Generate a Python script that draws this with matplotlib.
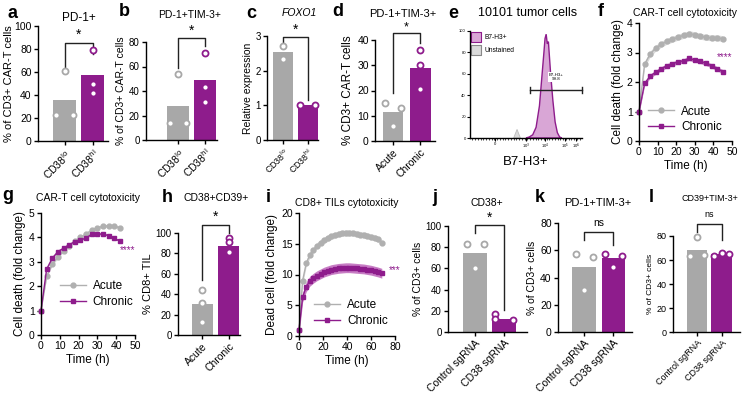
import numpy as np
import matplotlib.pyplot as plt

plt.rcParams['font.family'] = ['Liberation Sans', 'DejaVu Sans']

GRAY = '#A8A8A8'
PURPLE = '#8E1C8C'
PINK = '#D9A6D6'

# ---- data ----
a_bars = [36, 57]
a_pts = [[61, 23, 23], [79, 50, 42]]
b_bars = [28, 49]
b_pts = [[54, 14, 14], [71, 43, 31]]
c_bars = [2.55, 1.0]
c_pts = [[2.72, 2.35], [1.0, 1.0]]
d_bars = [11.5, 29]
d_pts = [[15, 13, 6], [36, 30, 20.5]]
h_bars = [30, 87]
h_pts = [[44, 31, 13], [95, 91, 81]]
j_bars = [75, 12]
j_pts = [[83, 83, 60], [17, 12, 11]]
k_bars = [48, 54]
k_pts = [[57, 55, 31], [57, 56, 48]]
l_bars = [68, 65]
l_pts = [[79, 63, 64], [63, 66, 65]]

cd38_labels = [r'CD38$^{\rm lo}$', r'CD38$^{\rm hi}$']
ac_labels = ['Acute', 'Chronic']
sg_labels = ['Control sgRNA', 'CD38 sgRNA']

# histogram (e), x in display units of the biexponential axis
e_pos = [0.50, 0.53, 0.56, 0.59, 0.62, 0.64, 0.66, 0.67, 0.68, 0.69, 0.70,
         0.71, 0.72, 0.74, 0.76, 0.78, 0.80, 0.82]
e_pct = [0, 1, 3, 10, 30, 55, 80, 93, 97, 88, 90, 75, 60, 35, 15, 5, 1, 0]
e_unst_pos = [0.39, 0.42, 0.45]
e_unst_pct = [0, 8, 0]
e_tick_pos = [0.22, 0.50, 0.67, 0.85, 0.95]
e_tick_lab = ['0', r'10$^3$', r'10$^4$', r'10$^5$', r'10$^6$']

f_t = [0, 3, 6, 9, 12, 15, 18, 21, 24, 27, 30, 33, 36, 39, 42, 45]
f_acute = [1.0, 2.6, 2.95, 3.15, 3.28, 3.38, 3.45, 3.52, 3.58, 3.64, 3.6, 3.55,
           3.51, 3.5, 3.5, 3.47]
f_chronic = [1.0, 1.95, 2.2, 2.33, 2.45, 2.55, 2.62, 2.68, 2.72, 2.8, 2.74, 2.7,
             2.63, 2.55, 2.45, 2.35]
f_sem = [0.1, 0.07]

g_t = [0, 3, 6, 9, 12, 15, 18, 21, 24, 27, 30, 33, 36, 39, 42]
g_acute = [1.0, 2.4, 2.9, 3.2, 3.45, 3.65, 3.85, 4.0, 4.15, 4.3, 4.4, 4.45, 4.48,
           4.48, 4.38]
g_chronic = [1.0, 2.7, 3.15, 3.42, 3.56, 3.7, 3.83, 3.9, 3.97, 4.14, 4.14, 4.14,
             4.07, 3.97, 3.84]
g_sem = [0.05, 0.03]

i_t = [0, 3, 6, 9, 12, 15, 18, 21, 24, 27, 30, 33, 36, 39, 42, 45, 48, 51, 54,
       57, 60, 63, 66, 69]
i_acute = [1.0, 9.0, 11.8, 13.2, 14.0, 14.7, 15.2, 15.6, 15.9, 16.2, 16.4, 16.6,
           16.7, 16.75, 16.75, 16.7, 16.6, 16.5, 16.4, 16.3, 16.1, 16.0, 15.7, 15.2]
i_chronic = [1.0, 6.3, 8.0, 8.9, 9.4, 9.8, 10.1, 10.4, 10.6, 10.8, 10.9, 11.0,
             11.05, 11.1, 11.1, 11.05, 11.0, 10.95, 10.9, 10.8, 10.7, 10.55, 10.4,
             10.2]
i_sem = [0.5, 0.8]

W, H = 750, 397
fig = plt.figure(figsize=(7.5, 3.97), dpi=100)


def px_axes(l, t, r, b):
    return fig.add_axes([l / W, 1 - b / H, (r - l) / W, (b - t) / H])


def ftext(x, y, s, **kw):
    fig.text(x / W, 1 - y / H, s, ha='center', va='center', **kw)


def style(ax, ls=7):
    for s in ['top', 'right']:
        ax.spines[s].set_visible(False)
    for s in ['left', 'bottom']:
        ax.spines[s].set_linewidth(1)
    ax.tick_params(length=3, width=1, labelsize=ls, pad=1.5)


def bar_panel(ax, heights, pts, offs, labels, xlim, width, ylim, yticks, ylabel,
              ls=7, yls=6.5, xls=7.5, lpad=2):
    style(ax, ls)
    ax.bar([0, 1], heights, width=width, color=[GRAY, PURPLE], zorder=1)
    for i in range(2):
        ax.scatter(np.array(offs[i]) + i, pts[i], s=19, facecolor='white',
                   edgecolor=[GRAY, PURPLE][i], linewidth=1.3, zorder=3,
                   clip_on=False)
    ax.set_xlim(xlim)
    ax.set_ylim(ylim)
    ax.set_yticks(yticks)
    ax.set_xticks([0, 1])
    ax.set_xticklabels(labels, rotation=45, ha='right', rotation_mode='anchor',
                       fontsize=xls)
    ax.set_ylabel(ylabel, fontsize=yls, labelpad=lpad)


def bracket(ax, yl, ytop, yr, text, ty, fs=10):
    ax.plot([0, 0, 1, 1], [yl, ytop, ytop, yr], color='#222222', lw=1,
            clip_on=False)
    ax.text(0.5, ty, text, ha='center', va='center', fontsize=fs, clip_on=False)


def line_panel(ax, t, ac, ch, sem, xlim, xticks, ylim, yticks, ylabel, stars,
               sx, sy, leg_xy):
    style(ax, 7.5)
    t = np.array(t)
    ac = np.array(ac)
    ch = np.array(ch)
    ax.fill_between(t, ac - sem[0], ac + sem[0], color='#D8D8D8', lw=0)
    ax.fill_between(t, ch - sem[1], ch + sem[1], color='#C77DC4', lw=0)
    ax.plot(t, ac, '-o', color='#B0B0B0', ms=3.5, lw=1, label='Acute',
            clip_on=False)
    ax.plot(t, ch, '-s', color=PURPLE, ms=3.5, lw=1, label='Chronic',
            clip_on=False)
    ax.set_xlim(xlim)
    ax.set_xticks(xticks)
    ax.set_ylim(ylim)
    ax.set_yticks(yticks)
    ax.set_xlabel('Time (h)', fontsize=8.5, labelpad=2)
    ax.set_ylabel(ylabel, fontsize=8.5, labelpad=2)
    ax.text(sx, sy, stars, color=PURPLE, fontsize=7, ha='center', va='center',
            clip_on=False)
    ax.legend(loc='upper left', bbox_to_anchor=leg_xy, frameon=False,
              fontsize=8.5, handlelength=2.2, handletextpad=0.6, borderpad=0,
              labelspacing=0.3, borderaxespad=0)


# ---- a ----
ax = px_axes(38, 26, 108, 141)
bar_panel(ax, a_bars, a_pts, [[0, -0.3, 0.3], [0, 0, 0]], cd38_labels,
          (-0.95, 1.55), 0.82, (0, 100), range(0, 101, 20),
          '% of CD3+ CAR-T cells', ls=7.5, yls=8, lpad=0.5)
bracket(ax, 63, 85, 76, '*', 92)

# ---- b ----
ax = px_axes(146, 42, 217, 140)
bar_panel(ax, b_bars, b_pts, [[0, -0.3, 0.3], [0, 0, 0]], cd38_labels,
          (-1.22, 1.45), 0.83, (0, 80), range(0, 81, 20),
          '% of CD3+ CAR-T cells', ls=7, yls=7.5)
bracket(ax, 59, 83, 77, '*', 89)

# ---- c ----
ax = px_axes(267, 36, 318, 140)
bar_panel(ax, c_bars, c_pts, [[0, 0], [-0.32, 0.28]], cd38_labels,
          (-0.64, 1.42), 0.8, (0, 3), [0, 1, 2, 3], 'Relative expression',
          ls=7, yls=7.5, xls=6.3)
bracket(ax, 2.83, 2.98, 1.15, '*', 3.17)

# ---- d ----
ax = px_axes(375, 40, 435, 141)
bar_panel(ax, d_bars, d_pts, [[-0.29, 0.29, 0], [0, 0, 0]], ac_labels,
          (-0.65, 1.53), 0.75, (0, 40), range(0, 41, 10),
          '% CD3+ CAR-T cells', ls=7.5, yls=8.5)
bracket(ax, 19, 42.8, 38.8, '*', 45, fs=9)

# ---- e ----
ax = px_axes(470, 31, 582, 138)
style(ax, 3)
ax.tick_params(length=2, width=0.8, labelsize=3, pad=1)
ax.fill(e_unst_pos, e_unst_pct, facecolor='#DADADA', edgecolor='#BBBBBB', lw=0.6)
ax.fill(e_pos, e_pct, facecolor=PINK, edgecolor=PURPLE, lw=1)
ax.set_xlim(0, 1)
ax.set_ylim(0, 100)
ax.set_yticks(range(0, 101, 20))
ax.set_xticks(e_tick_pos)
ax.set_xticklabels(e_tick_lab)
ax.set_xticks(np.linspace(0.02, 0.98, 40), minor=True)
ax.tick_params(which='minor', length=1.2, width=0.5)
ax.plot([0.54, 1.0], [45, 45], color='#222222', lw=1, clip_on=False)
ax.plot([0.54, 0.54], [42, 48], color='#222222', lw=1)
ax.plot([1.0, 1.0], [42, 48], color='#222222', lw=1, clip_on=False)
ax.text(0.77, 57, 'B7-H3+\n99.8', fontsize=3.2, ha='center', va='center',
        linespacing=1.2, bbox=dict(facecolor='white', edgecolor='none', pad=0.5))
ax.scatter([0.05], [94], marker='s', s=45, facecolor=PINK, edgecolor=PURPLE, lw=0.8)
ax.scatter([0.05], [82], marker='s', s=45, facecolor='#DADADA', edgecolor='#888888',
           lw=0.8)
ax.text(0.13, 94, 'B7-H3+', fontsize=4.8, va='center')
ax.text(0.13, 82, 'Unstained', fontsize=4.8, va='center')
ax.set_xlabel('B7-H3+', fontsize=9.5, labelpad=3)

# ---- f ----
ax = px_axes(639, 23, 732, 141)
line_panel(ax, f_t, f_acute, f_chronic, f_sem, (0, 50), range(0, 51, 10),
           (0, 4), range(0, 5), 'Cell death (fold change)', '****', 46, 2.85,
           (0.1, 0.3))

# ---- g ----
ax = px_axes(41, 213, 135, 335)
line_panel(ax, g_t, g_acute, g_chronic, g_sem, (0, 50), range(0, 51, 10),
           (0, 5), range(0, 6), 'Cell death (fold change)', '****', 46, 3.5,
           (0.2, 0.45))

# ---- h ----
ax = px_axes(178, 233, 240, 335)
bar_panel(ax, h_bars, h_pts, [[0, 0, 0], [0, 0, 0]], ac_labels,
          (-0.92, 1.42), 0.8, (0, 100), range(0, 101, 20), '% CD8+ TIL',
          ls=7, yls=8)
bracket(ax, 54, 108, 100, '*', 116)

# ---- i ----
ax = px_axes(299, 213, 395, 336)
line_panel(ax, i_t, i_acute, i_chronic, i_sem, (0, 80), range(0, 81, 20),
           (0, 20), range(0, 21, 5), 'Dead cell (fold change)', '***', 80, 10.7,
           (0.16, 0.3))

# ---- j ----
ax = px_axes(448, 226, 527, 332)
bar_panel(ax, j_bars, j_pts, [[-0.28, 0.32, 0], [-0.3, -0.3, 0.33]], sg_labels,
          (-0.95, 1.82), 0.84, (0, 100), range(0, 101, 20), '% of CD3+ cells',
          ls=7, yls=7.5)
bracket(ax, 93, 101, 21, '*', 108)

# ---- k ----
ax = px_axes(558, 223, 632, 332)
bar_panel(ax, k_bars, k_pts, [[-0.27, 0.3, 0], [-0.29, 0.29, 0]], sg_labels,
          (-0.88, 1.63), 0.8, (0, 80), range(0, 81, 20), '% of CD3+ cells',
          ls=7.5, yls=7.5)
bracket(ax, 67.5, 73.4, 64, 'ns', 80, fs=7.5)

# ---- l ----
ax = px_axes(673, 236, 740, 332)
bar_panel(ax, l_bars, l_pts, [[0, -0.3, 0.3], [-0.3, 0, 0.3]], sg_labels,
          (-0.98, 1.75), 0.84, (0, 80), range(0, 81, 20), '% of CD3+ cells',
          ls=6.5, yls=6, xls=6.5)
bracket(ax, 83, 90, 77, 'ns', 97.5, fs=6.5)

# ---- panel letters ----
for s, x, y in [('a', 12, 13), ('b', 124, 12), ('c', 251, 13), ('d', 338, 12),
                ('e', 453, 13), ('f', 601, 12), ('g', 8, 196), ('h', 167, 197),
                ('i', 268, 197), ('j', 435, 197), ('k', 540, 197), ('l', 651, 197)]:
    ftext(x, y, s, fontsize=13, fontweight='bold')

# ---- titles ----
ftext(79, 18, 'PD-1+', fontsize=8.5)
ftext(190, 15, 'PD-1+TIM-3+', fontsize=7.5)
ftext(299, 13, 'FOXO1', fontsize=7.5, fontstyle='italic')
ftext(403, 14, 'PD-1+TIM-3+', fontsize=8)
ftext(528, 13, '10101 tumor cells', fontsize=9)
ftext(685, 13, 'CAR-T cell cytotoxicity', fontsize=7.5)
ftext(88, 198, 'CAR-T cell cytotoxicity', fontsize=7.5)
ftext(216, 198, 'CD38+CD39+', fontsize=7.5)
ftext(347, 203, 'CD8+ TILs cytotoxicity', fontsize=7.5)
ftext(487, 203, 'CD38+', fontsize=7.5)
ftext(598, 203, 'PD-1+TIM-3+', fontsize=8)
ftext(710, 198, 'CD39+TIM-3+', fontsize=6.5)

fig.savefig('out.png', dpi=100)
